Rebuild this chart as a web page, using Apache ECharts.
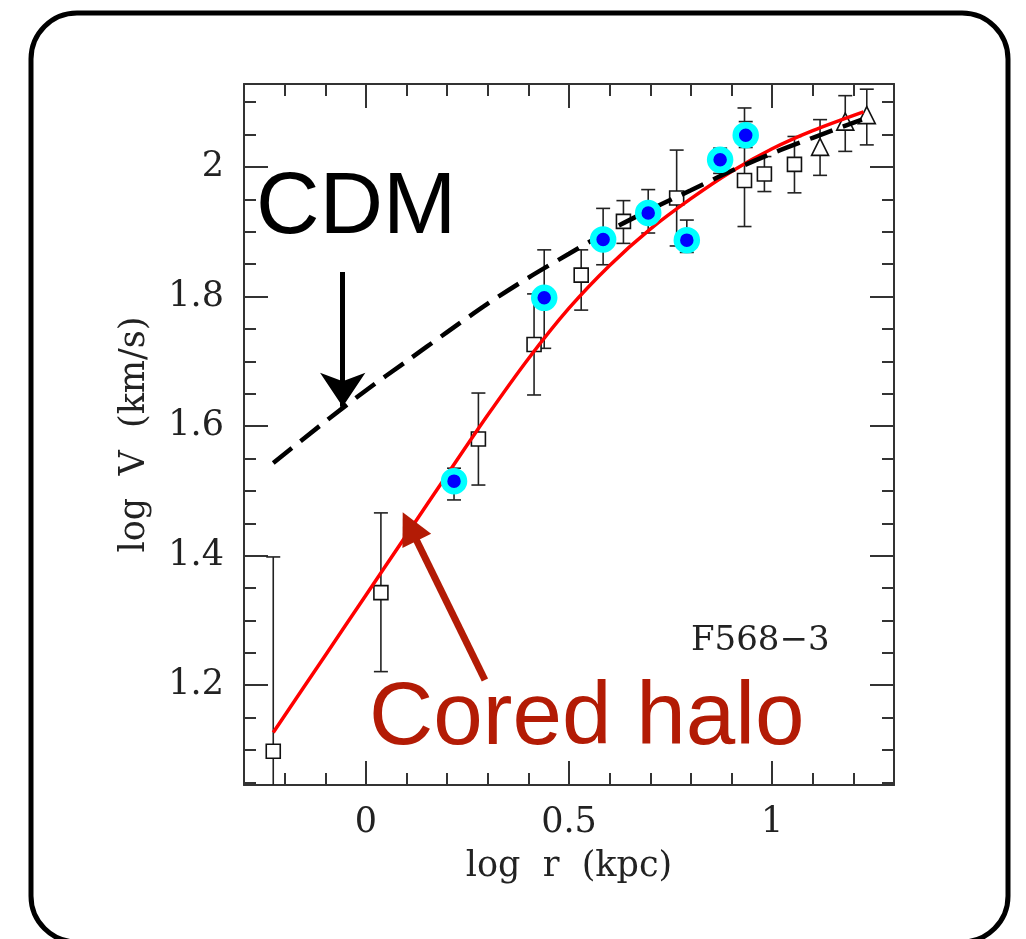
<!DOCTYPE html>
<html>
<head>
<meta charset="utf-8">
<title>F568-3 rotation curve</title>
<script src="https://cdn.jsdelivr.net/npm/echarts@6/dist/echarts.min.js"></script>
<style>
  html, body { margin: 0; padding: 0; background: #ffffff; }
  #chart { width: 1026px; height: 939px; }
</style>
</head>
<body>
<div id="chart"></div>
<script>
// Rotation curve of the low-surface-brightness galaxy F568-3 (log V vs log r).
// Each observed point: [log r, log V, lower end of error bar, upper end of error bar]
const openSquares = [
  [-0.228, 1.098, 0.800, 1.398],
  [0.037, 1.343, 1.221, 1.466],
  [0.277, 1.580, 1.509, 1.651],
  [0.414, 1.726, 1.648, 1.804],
  [0.530, 1.833, 1.779, 1.872],
  [0.634, 1.916, 1.882, 1.948],
  [0.765, 1.952, 1.878, 2.026],
  [0.932, 1.979, 1.908, 2.091],
  [0.981, 1.989, 1.962, 2.016],
  [1.055, 2.004, 1.960, 2.047]
];
const openTriangles = [
  [1.118, 2.031, 1.987, 2.073],
  [1.180, 2.070, 2.024, 2.110],
  [1.233, 2.080, 2.034, 2.120]
];
const highlighted = [
  [0.217, 1.515, 1.486, 1.535],
  [0.439, 1.798, 1.720, 1.872],
  [0.584, 1.888, 1.849, 1.936],
  [0.695, 1.929, 1.898, 1.965],
  [0.790, 1.887, 1.868, 1.918],
  [0.872, 2.011, 1.990, 2.029],
  [0.935, 2.049, 2.030, 2.070]
];

// Model curves: [log r, log V]
const cdmCurve = [
  [-0.228, 1.543], [-0.1, 1.607], [0.0, 1.655], [0.1, 1.700], [0.2, 1.745],
  [0.3, 1.789], [0.4, 1.829], [0.5, 1.866], [0.6, 1.902], [0.7, 1.934],
  [0.8, 1.964], [0.9, 1.994], [1.0, 2.021], [1.1, 2.045], [1.221, 2.073]
];
const coredCurve = [
  [-0.228, 1.127], [-0.1, 1.246], [0.0, 1.339], [0.1, 1.432], [0.2, 1.525],
  [0.3, 1.617], [0.4, 1.704], [0.5, 1.782], [0.6, 1.848], [0.7, 1.904],
  [0.8, 1.951], [0.9, 1.993], [1.0, 2.028], [1.1, 2.056], [1.225, 2.085]
];

// Annotation arrows in data space: [tail, head]
const cdmArrow = [[-0.057, 1.838], [-0.057, 1.630]];
const coredArrow = [[0.293, 1.208], [0.108, 1.445]];

// Axis ranges and ticks
const xRange = [-0.3, 1.3];
const yRange = [1.046, 2.128];
const xMajorTicks = [0, 0.5, 1];
const xMinorTicks = [-0.2, -0.1, 0.1, 0.2, 0.3, 0.4, 0.6, 0.7, 0.8, 0.9, 1.1, 1.2];
const yMajorTicks = [1.2, 1.4, 1.6, 1.8, 2];
const yMinorTicks = [1.05, 1.1, 1.15, 1.25, 1.3, 1.35, 1.45, 1.5, 1.55, 1.65, 1.7, 1.75,
                     1.85, 1.9, 1.95, 2.05, 2.1];

const serif = '"DejaVu Serif", "Liberation Serif", serif';
const axisColor = '#333333';
const MAJOR_LEN = 24, MINOR_LEN = 12;

function tickAxis(kind, position, ticks, len, withLine) {
  return {
    type: 'value',
    gridIndex: 0,
    position: position,
    min: kind === 'x' ? xRange[0] : yRange[0],
    max: kind === 'x' ? xRange[1] : yRange[1],
    axisLine: { show: withLine, onZero: false, lineStyle: { color: axisColor, width: 2 } },
    axisTick: { show: true, inside: true, length: len, customValues: ticks,
                lineStyle: { color: axisColor, width: 2 } },
    axisLabel: { show: false },
    splitLine: { show: false }
  };
}

const mainX = tickAxis('x', 'bottom', xMajorTicks, MAJOR_LEN, true);
mainX.axisLabel = { show: true, customValues: xMajorTicks, margin: 20,
  fontFamily: serif, fontSize: 35, color: '#222' };
mainX.name = 'log  r  (kpc)';
mainX.nameLocation = 'middle';
mainX.nameGap = 64;
mainX.nameTextStyle = { fontFamily: serif, fontSize: 35, color: '#222' };

const mainY = tickAxis('y', 'left', yMajorTicks, MAJOR_LEN, true);
mainY.axisLabel = { show: true, customValues: yMajorTicks, margin: 20,
  fontFamily: serif, fontSize: 35, color: '#222' };
mainY.name = 'log  V  (km/s)';
mainY.nameLocation = 'middle';
mainY.nameGap = 92;
mainY.nameRotate = 90;
mainY.nameTextStyle = { fontFamily: serif, fontSize: 35, color: '#222' };

function renderErrorBar(params, api) {
  const x = api.value(0);
  const lo = api.coord([x, api.value(2)]);
  const hi = api.coord([x, api.value(3)]);
  const half = 7;
  const style = { stroke: '#222', lineWidth: 1.6 };
  return {
    type: 'group',
    children: [
      { type: 'line', shape: { x1: lo[0], y1: lo[1], x2: hi[0], y2: hi[1] }, style: style },
      { type: 'line', shape: { x1: lo[0] - half, y1: lo[1], x2: lo[0] + half, y2: lo[1] }, style: style },
      { type: 'line', shape: { x1: hi[0] - half, y1: hi[1], x2: hi[0] + half, y2: hi[1] }, style: style }
    ]
  };
}

const chart = echarts.init(document.getElementById('chart'), null, { renderer: 'canvas' });

chart.setOption({
  backgroundColor: '#ffffff',
  animation: false,
  grid: { left: 244, right: 132, top: 84, bottom: 154, containLabel: false },
  xAxis: [
    mainX,
    tickAxis('x', 'bottom', xMinorTicks, MINOR_LEN, false),
    tickAxis('x', 'top', xMajorTicks, MAJOR_LEN, true),
    tickAxis('x', 'top', xMinorTicks, MINOR_LEN, false)
  ],
  yAxis: [
    mainY,
    tickAxis('y', 'left', yMinorTicks, MINOR_LEN, false),
    tickAxis('y', 'right', yMajorTicks, MAJOR_LEN, true),
    tickAxis('y', 'right', yMinorTicks, MINOR_LEN, false)
  ],
  graphic: [
    { type: 'rect', z: 100, silent: true,
      shape: { x: 31, y: 13, width: 977, height: 929, r: 46 },
      style: { fill: 'none', stroke: '#000', lineWidth: 5 } },
    { type: 'text', z: 100, silent: true, x: 256, y: 165,
      style: { text: 'CDM', font: '88px "Liberation Sans", Arial, sans-serif', fill: '#000' } },
    { type: 'text', z: 100, silent: true, x: 369, y: 675,
      style: { text: 'Cored halo', font: '89px "Liberation Sans", Arial, sans-serif', fill: '#b31b05' } },
    { type: 'text', z: 100, silent: true, x: 691, y: 624,
      style: { text: 'F568\u22123', font: '34px "DejaVu Serif", serif', fill: '#222' } }
  ],
  series: [
    {
      name: 'error bars',
      type: 'custom',
      xAxisIndex: 0, yAxisIndex: 0,
      renderItem: renderErrorBar,
      encode: { x: 0, y: 1 },
      data: openSquares.concat(openTriangles, highlighted),
      clip: true,
      z: 2,
      silent: true
    },
    {
      name: 'squares',
      type: 'scatter',
      symbol: 'rect',
      symbolSize: 14,
      encode: { x: 0, y: 1 },
      data: openSquares,
      itemStyle: { color: '#ffffff', borderColor: '#111', borderWidth: 1.6, opacity: 1 },
      z: 3,
      silent: true
    },
    {
      name: 'triangles',
      type: 'scatter',
      symbol: 'triangle',
      symbolSize: 17,
      encode: { x: 0, y: 1 },
      data: openTriangles,
      itemStyle: { color: '#ffffff', borderColor: '#111', borderWidth: 1.6, opacity: 1 },
      z: 3,
      silent: true
    },
    {
      name: 'Cored halo',
      type: 'line',
      data: coredCurve,
      showSymbol: false,
      smooth: 0.3,
      lineStyle: { color: '#ff0000', width: 3.5, join: 'round' },
      z: 4,
      silent: true,
      markLine: {
        silent: true,
        animation: false,
        symbol: ['none', 'triangle'],
        symbolSize: 32,
        label: { show: false },
        lineStyle: { color: '#b31b05', width: 7, type: 'solid' },
        data: [[{ coord: coredArrow[0] }, { coord: coredArrow[1] }]]
      }
    },
    {
      name: 'CDM',
      type: 'line',
      data: cdmCurve,
      showSymbol: false,
      smooth: 0.3,
      lineStyle: { color: '#000000', width: 4.5, type: [24, 11] },
      z: 5,
      silent: true,
      markLine: {
        silent: true,
        animation: false,
        symbol: ['none', 'arrow'],
        symbolSize: 34,
        label: { show: false },
        lineStyle: { color: '#000000', width: 5, type: 'solid' },
        data: [[{ coord: cdmArrow[0] }, { coord: cdmArrow[1] }]]
      }
    },
    {
      name: 'highlighted',
      type: 'scatter',
      symbol: 'circle',
      symbolSize: 20,
      encode: { x: 0, y: 1 },
      data: highlighted,
      itemStyle: { color: '#0000ff', borderColor: '#00ffff', borderWidth: 6.5, opacity: 1 },
      z: 6,
      silent: true
    }
  ]
});
</script>
</body>
</html>
